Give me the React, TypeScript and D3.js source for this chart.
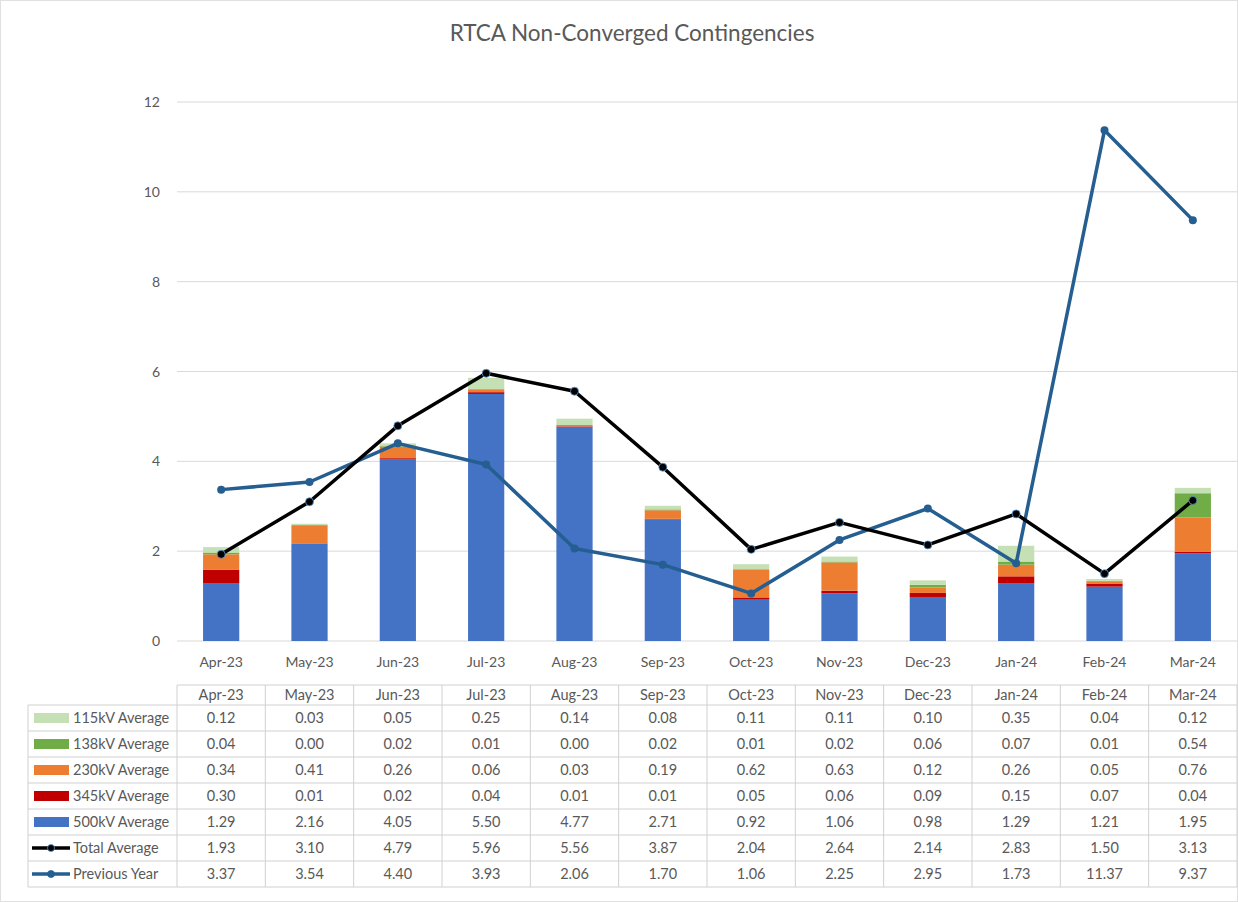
import React from "react";
import * as d3 from "d3";

const months = ["Apr-23","May-23","Jun-23","Jul-23","Aug-23","Sep-23","Oct-23","Nov-23","Dec-23","Jan-24","Feb-24","Mar-24"];
const kv115 = [0.12,0.03,0.05,0.25,0.14,0.08,0.11,0.11,0.10,0.35,0.04,0.12];
const kv138 = [0.04,0.00,0.02,0.01,0.00,0.02,0.01,0.02,0.06,0.07,0.01,0.54];
const kv230 = [0.34,0.41,0.26,0.06,0.03,0.19,0.62,0.63,0.12,0.26,0.05,0.76];
const kv345 = [0.30,0.01,0.02,0.04,0.01,0.01,0.05,0.06,0.09,0.15,0.07,0.04];
const kv500 = [1.29,2.16,4.05,5.50,4.77,2.71,0.92,1.06,0.98,1.29,1.21,1.95];
const totalAvg = [1.93,3.10,4.79,5.96,5.56,3.87,2.04,2.64,2.14,2.83,1.50,3.13];
const prevYear = [3.37,3.54,4.40,3.93,2.06,1.70,1.06,2.25,2.95,1.73,11.37,9.37];
const yTicks = [0,2,4,6,8,10,12];

const barSeries = [
  { key: "500kV Average", values: kv500, color: "#4472C4" },
  { key: "345kV Average", values: kv345, color: "#C00000" },
  { key: "230kV Average", values: kv230, color: "#ED7D31" },
  { key: "138kV Average", values: kv138, color: "#70AD47" },
  { key: "115kV Average", values: kv115, color: "#C5E0B4" },
];

const W = 1238, H = 902;
const plotL = 177, plotR = 1237, plotT = 102, plotB = 641;
const FONT = "Lato, 'Open Sans', sans-serif";

export default function App() {
  const x = d3.scaleBand<string>().domain(months).range([plotL, plotR]).paddingInner(0.59).paddingOuter(0.295);
  const xc = (i: number) => (x(months[i]) as number) + x.bandwidth() / 2;
  const y = d3.scaleLinear().domain([0, 12]).range([plotB, plotT]);
  const step = x.step();

  const rows = months.map((m, i) => {
    const o: any = { m };
    barSeries.forEach(s => (o[s.key] = s.values[i]));
    return o;
  });
  const stack = d3.stack<any>().keys(barSeries.map(s => s.key))(rows);

  const line = d3.line<number>().x((_, i) => xc(i)).y(d => y(d));

  const tableRows = [
    { label: "115kV Average", values: kv115, type: "bar", color: "#C5E0B4" },
    { label: "138kV Average", values: kv138, type: "bar", color: "#70AD47" },
    { label: "230kV Average", values: kv230, type: "bar", color: "#ED7D31" },
    { label: "345kV Average", values: kv345, type: "bar", color: "#C00000" },
    { label: "500kV Average", values: kv500, type: "bar", color: "#4472C4" },
    { label: "Total Average", values: totalAvg, type: "line", color: "#000000" },
    { label: "Previous Year", values: prevYear, type: "line", color: "#255E91" },
  ];
  const headT = 685, headB = 705, rowH = 26;
  const tableL = 28;
  const gridCol = "#D0D0D0";

  return (
    <svg width={W} height={H} style={{ position: "absolute", left: 0, top: 0, background: "#fff" }} fontFamily={FONT}>
      <rect x={0.5} y={0.5} width={W - 1} height={H - 1} fill="#fff" stroke="#E0E0E0" />
      <text x={632} y={41} textAnchor="middle" fontSize={22.5} fill="#595959">RTCA Non-Converged Contingencies</text>

      {yTicks.map(t => (
        <g key={t}>
          <line x1={plotL} x2={plotR} y1={y(t)} y2={y(t)} stroke="#D9D9D9" strokeWidth={1} />
          <text x={160} y={y(t) + 5} textAnchor="end" fontSize={14} fill="#595959">{t}</text>
        </g>
      ))}

      {stack.map((layer, si) => (
        <g key={layer.key} fill={barSeries[si].color}>
          {layer.map((d, i) => (
            <rect key={i} x={x(months[i])} width={x.bandwidth()} y={y(d[1])} height={Math.max(0, y(d[0]) - y(d[1]))} />
          ))}
        </g>
      ))}

      {months.map((m, i) => (
        <text key={m} x={xc(i)} y={667} textAnchor="middle" fontSize={14} fill="#595959">{m}</text>
      ))}

      <path d={line(prevYear) || ""} fill="none" stroke="#255E91" strokeWidth={3.5} strokeLinejoin="round" />
      {prevYear.map((v, i) => (
        <circle key={i} cx={xc(i)} cy={y(v)} r={4} fill="#255E91" />
      ))}
      <path d={line(totalAvg) || ""} fill="none" stroke="#000" strokeWidth={3.5} strokeLinejoin="round" />
      {totalAvg.map((v, i) => (
        <circle key={i} cx={xc(i)} cy={y(v)} r={4} fill="#000" stroke="#5B9BD5" strokeWidth={0.8} />
      ))}

      {/* data table */}
      <g stroke={gridCol} strokeWidth={1} fill="none">
        <line x1={plotL} x2={plotR} y1={headT} y2={headT} />
        {tableRows.map((_, r) => (
          <line key={r} x1={tableL} x2={plotR} y1={headB + r * rowH} y2={headB + r * rowH} />
        ))}
        <line x1={tableL} x2={plotR} y1={headB + tableRows.length * rowH} y2={headB + tableRows.length * rowH} />
        <line x1={tableL} x2={tableL} y1={headB} y2={headB + tableRows.length * rowH} />
        {d3.range(months.length + 1).map(k => (
          <line key={k} x1={plotL + k * step} x2={plotL + k * step} y1={headT} y2={headB + tableRows.length * rowH} />
        ))}
      </g>
      {months.map((m, i) => (
        <text key={m} x={xc(i)} y={headB - 5} textAnchor="middle" fontSize={14.5} fill="#595959">{m}</text>
      ))}
      {tableRows.map((row, r) => {
        const cy = headB + r * rowH + rowH / 2;
        return (
          <g key={row.label}>
            {row.type === "bar" ? (
              <rect x={34} y={cy - 5} width={35} height={10} fill={row.color} />
            ) : (
              <g>
                <line x1={32} x2={70} y1={cy} y2={cy} stroke={row.color} strokeWidth={3.5} />
                <circle cx={51} cy={cy} r={3.5} fill={row.color} stroke={r === 5 ? "#5B9BD5" : row.color} strokeWidth={0.8} />
              </g>
            )}
            <text x={73} y={cy + 5} fontSize={14.5} fill="#595959">{row.label}</text>
            {row.values.map((v, i) => (
              <text key={i} x={xc(i)} y={cy + 5} textAnchor="middle" fontSize={14.5} fill="#595959">{v.toFixed(2)}</text>
            ))}
          </g>
        );
      })}
    </svg>
  );
}
